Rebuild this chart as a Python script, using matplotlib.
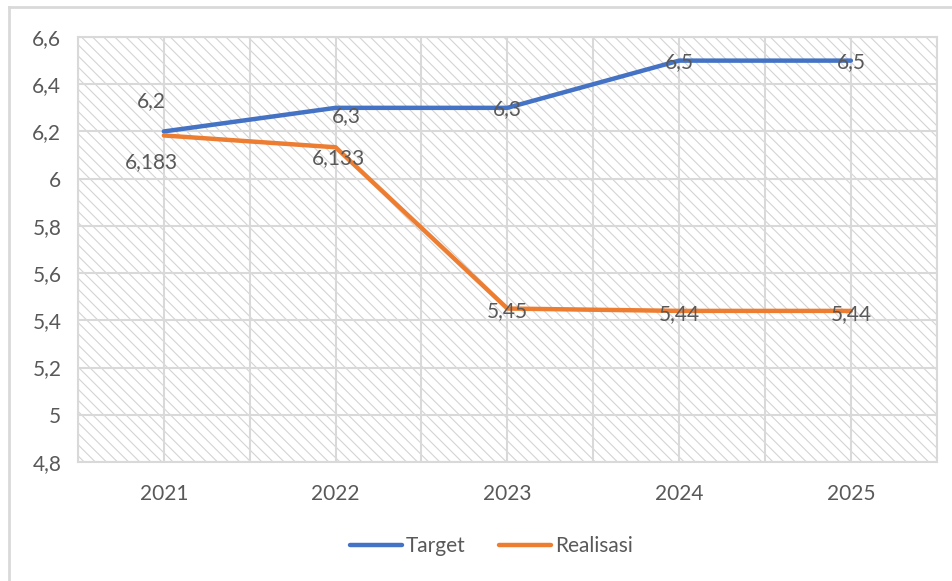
import matplotlib.pyplot as plt
from matplotlib.patches import Rectangle
from matplotlib.ticker import FuncFormatter

years = ['2021', '2022', '2023', '2024', '2025']
target = [6.2, 6.3, 6.3, 6.5, 6.5]
realisasi = [6.183, 6.133, 5.45, 5.44, 5.44]
target_labels = ['6,2', '6,3', '6,3', '6,5', '6,5']
realisasi_labels = ['6,183', '6,133', '5,45', '5,44', '5,44']

plt.rcParams['font.family'] = ['Lato', 'DejaVu Sans']
plt.rcParams['hatch.linewidth'] = 0.8
text_col = '#595959'
grid_col = '#d9d9d9'

fig = plt.figure(figsize=(9.52, 5.81), dpi=100)
ax = fig.add_axes((0.0819, 0.2048, 0.9021, 0.7315))

x = list(range(len(years)))
ax.set_xlim(-0.5, 4.5)
ax.set_ylim(4.8, 6.6)

# hatched plot area
ax.add_patch(Rectangle((0, 0), 1, 1, transform=ax.transAxes, facecolor='white',
                       edgecolor='#d4d4d4', hatch='\\\\\\', linewidth=0, zorder=0))

ax.set_xticks(x)
ax.set_xticks([i + 0.5 for i in range(-1, len(years))], minor=True)
ax.set_xticklabels(years)
ax.set_yticks([4.8 + 0.2 * i for i in range(10)])
ax.yaxis.set_major_formatter(FuncFormatter(lambda v, p: ('%g' % round(v, 1)).replace('.', ',')))
ax.tick_params(length=0, which='both', labelsize=15, labelcolor=text_col)
ax.tick_params(axis='y', pad=12)
ax.tick_params(axis='x', pad=16)
ax.grid(True, which='major', color=grid_col, linewidth=1.5, zorder=1)
ax.grid(True, which='minor', axis='x', color=grid_col, linewidth=1.5, zorder=1)
ax.set_axisbelow(True)
for s in ax.spines.values():
    s.set_color(grid_col)
    s.set_linewidth(1.5)

ax.plot(x, target, color='#4472C4', linewidth=3.2, label='Target', zorder=3,
        solid_capstyle='round')
ax.plot(x, realisasi, color='#ED7D31', linewidth=3.2, label='Realisasi', zorder=3,
        solid_capstyle='round')

t_off = [(-9, 22), (8, -6), (0, -1), (0, -1), (0, -1)]
r_off = [(-9, -19), (2, -8), (0, -2), (0, -2), (0, -2)]
for i in x:
    ax.annotate(target_labels[i], (x[i], target[i]), xytext=t_off[i], textcoords='offset points',
                ha='center', va='center', fontsize=15, color=text_col, zorder=4)
    ax.annotate(realisasi_labels[i], (x[i], realisasi[i]), xytext=r_off[i], textcoords='offset points',
                ha='center', va='center', fontsize=15, color=text_col, zorder=4)

leg = fig.legend(loc='center', bbox_to_anchor=(0.516, 0.06), ncol=2, frameon=False,
                 fontsize=15, handlelength=2.5, handletextpad=0.2, columnspacing=1.6)
for t in leg.get_texts():
    t.set_color(text_col)

# outer chart border (left and top visible)
fig.add_artist(plt.Line2D([0.0095, 0.0095], [0, 0.988], color='#d9d9d9', linewidth=2))
fig.add_artist(plt.Line2D([0.0095, 1], [0.988, 0.988], color='#d9d9d9', linewidth=2))

fig.savefig('out.png')
